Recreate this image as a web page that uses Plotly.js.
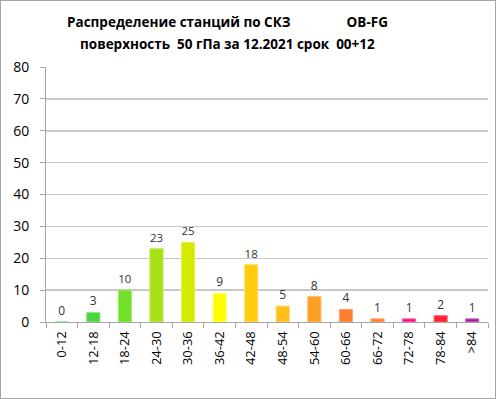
<!DOCTYPE html>
<html>
<head>
<meta charset="utf-8">
<script src="https://cdn.plot.ly/plotly-3.0.1.min.js"></script>
<style>
html,body{margin:0;padding:0;background:#fff;}
#chart{width:496px;height:399px;box-sizing:border-box;border:1px solid #a6a6a6;}
</style>
</head>
<body>
<div id="chart"></div>
<script>
const categories = ["0-12","12-18","18-24","24-30","30-36","36-42","42-48","48-54","54-60","60-66","66-72","72-78","78-84",">84"];
const counts = [0,3,10,23,25,9,18,5,8,4,1,1,2,1];
const barColors = ["#4cd43c","#4cd43c","#72e02a","#a6e016","#d4ea00","#ffff00","#ffcc10","#ffbf18","#ff9f28","#ff7f30","#ff7f30","#ff0a80","#ff2030","#a020a0"];
const edgeColors = ["#8ee884","#8ee884","#a6ec74","#c8ec68","#e4f25a","#ffff80","#ffe070","#ffd870","#ffc070","#ffa878","#ffa878","#ff70b0","#ff7078","#c870c8"];
const titleLines = ["Распределение станций по СКЗ                OB-FG", "поверхность  50 гПа за 12.2021 срок  00+12"];
const yTicks = [0,10,20,30,40,50,60,70,80];

const titleFont = {family: "Open Sans, sans-serif", size: 13.5, color: "#000", weight: "bold"};

Plotly.newPlot("chart", [{
  type: "bar",
  x: categories,
  y: counts,
  text: counts.map(String),
  textposition: "outside",
  cliponaxis: false,
  textfont: {family: "Open Sans, sans-serif", size: 12, color: "#333333"},
  marker: {color: barColors, line: {color: edgeColors, width: 1}},
  hoverinfo: "none"
}], {
  width: 494, height: 397,
  margin: {l: 45, r: 7, t: 66, b: 76},
  paper_bgcolor: "#ffffff",
  plot_bgcolor: "#ffffff",
  bargap: 0.58,
  showlegend: false,
  annotations: [
    {text: titleLines[0], xref: "paper", yref: "paper", x: 0.41, y: 1.176, xanchor: "center", yanchor: "middle", showarrow: false, font: titleFont},
    {text: titleLines[1], xref: "paper", yref: "paper", x: 0.41, y: 1.090, xanchor: "center", yanchor: "middle", showarrow: false, font: titleFont}
  ],
  xaxis: {
    type: "category",
    tickangle: -90,
    ticks: "outside",
    tickson: "boundaries",
    ticklen: 5,
    tickcolor: "#a6a6a6",
    showline: true,
    linecolor: "#a6a6a6",
    showgrid: false,
    ticklabelstandoff: 3,
    tickfont: {family: "Open Sans, sans-serif", size: 13, color: "#000"},
    fixedrange: true
  },
  yaxis: {
    range: [0, 80],
    tickvals: yTicks,
    ticks: "outside",
    ticklen: 5,
    tickcolor: "#a6a6a6",
    showline: true,
    linecolor: "#a6a6a6",
    gridcolor: "#c8c8c8",
    gridwidth: 1.5,
    zeroline: false,
    ticklabelstandoff: 8,
    tickfont: {family: "Open Sans, sans-serif", size: 14, color: "#000"},
    fixedrange: true
  },
  font: {family: "Open Sans, sans-serif"}
}, {displayModeBar: false, staticPlot: true});
</script>
</body>
</html>
